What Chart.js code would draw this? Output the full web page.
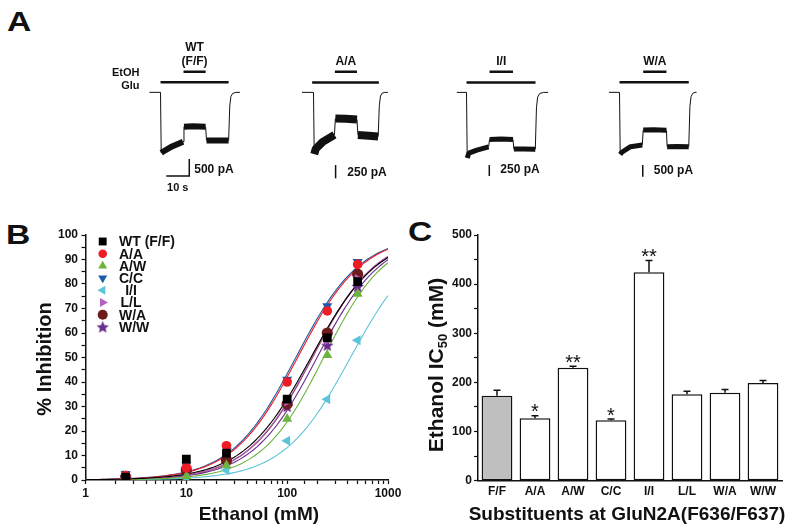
<!DOCTYPE html>
<html>
<head>
<meta charset="utf-8">
<script src="https://cdn.jsdelivr.net/npm/chart.js@4.4.1/dist/chart.umd.min.js"></script>
<style>
  html, body { margin: 0; padding: 0; background: #fff; }
  #fig { position: relative; width: 800px; height: 532px; overflow: hidden; }
  #fig canvas { position: absolute; }
  .panel {
    position: absolute; color: #111;
    font: bold 28px "Liberation Sans", Arial, sans-serif; line-height: 28px;
    transform: scaleX(1.2); transform-origin: 0 0;
  }
</style>
</head>
<body>
<div id="fig">
  <div class="panel" style="left:7px;top:8px">A</div>
  <div class="panel" style="left:6px;top:221px">B</div>
  <div class="panel" style="left:408px;top:218px">C</div>

  <canvas id="traceWT" width="150" height="155" style="left:103px;top:40px"></canvas>
  <canvas id="traceAA" width="150" height="155" style="left:255.5px;top:40px"></canvas>
  <canvas id="traceII" width="150" height="155" style="left:409px;top:40px"></canvas>
  <canvas id="traceWA" width="150" height="155" style="left:561.5px;top:40px"></canvas>

  <canvas id="doseChart" width="410" height="332" style="left:0;top:200px"></canvas>
  <canvas id="ic50Chart" width="400" height="332" style="left:400px;top:200px"></canvas>
</div>

<script>
/* ===== DATA ===== */

// A: whole-cell currents, time in s from glutamate onset, current in pA
const wtTime    = [-4.8, 0, 0.3, 1.2, 5, 9.8, 10.2, 14, 19.6, 20, 25, 29.6, 30.1, 30.6, 31.4, 32.8, 34.5];
const wtCurrent = [0, 0, -1780, -1740, -1590, -1450, -1010, -1000, -1010, -1420, -1420, -1420, -400, -120, -30, 0, 0];

const aaTime    = [-5, 0, 0.3, 1, 4, 9.1, 9.5, 14, 18.9, 19.3, 24, 28.1, 28.6, 29.1, 29.8, 31, 32.3];
const aaCurrent = [0, 0, -1160, -1060, -930, -800, -490, -495, -510, -800, -815, -830, -250, -70, -15, 0, 0];

const iiTime    = [-4.2, 0, 0.3, 1, 4.5, 9.6, 10, 15, 20.2, 20.6, 25, 29.9, 30.4, 30.9, 31.8, 33.5, 35.5];
const iiCurrent = [0, 0, -1490, -1380, -1310, -1235, -1067, -1060, -1070, -1287, -1287, -1290, -350, -110, -25, 0, 0];

const waTime    = [-4.6, 0, 0.3, 1, 4.8, 9.9, 10.3, 15, 20.4, 20.7, 25, 30.1, 30.6, 31.1, 31.9, 32.8, 33.5];
const waCurrent = [0, 0, -2650, -2560, -2320, -2250, -1610, -1600, -1620, -2320, -2310, -2320, -600, -180, -40, 0, 0];

// solution application windows (s)
const gluWindows  = [[0, 29.6], [-0.6, 28.4], [0, 30], [0, 30.1]];
const etohWindows = [[10, 19.6], [9.3, 18.9], [10, 20.2], [10.3, 20.4]];
const traceLabels = [['WT', '(F/F)'], ['A/A'], ['I/I'], ['W/A']];
const scaleBarPA  = [500, 250, 250, 500];

// B: % inhibition vs ethanol concentration
const concentrations = [2.5, 10, 25, 100, 250, 500];
const genotypes = ['WT (F/F)', 'A/A', 'A/W', 'C/C', 'I/I', 'L/L', 'W/A', 'W/W'];
const inhibWT = [1.2, 8.5, 11, 33, 58, 81];
const inhibAA = [1.8, 5, 14, 40, 69, 88];
const inhibAW = [0.8, 1.5, 6, 25, 51, 76];
const inhibCC = [2.5, 6, 13.5, 41, 71, 89];
const inhibII = [0.8, 0.8, 4, 16, 33, 57];
const inhibLL = [2, 5.5, 13, 32, 57, 82];
const inhibWA = [1, 4, 8, 31, 60, 84];
const inhibWW = [1.5, 4.5, 8.5, 30, 55, 79];
// Hill fit parameters (IC50 in mM, slope)
const fitIC50 = [172, 127, 230, 122, 425, 176, 178, 198];
const fitHill = [1.3, 1.35, 1.4, 1.35, 1.3, 1.35, 1.35, 1.35];

// C: ethanol IC50 per substituent
const substituents = ['F/F', 'A/A', 'A/W', 'C/C', 'I/I', 'L/L', 'W/A', 'W/W'];
const ic50Mean = [173, 127, 230, 123, 424, 176, 179, 199];
const ic50Sem  = [11, 5, 3, 2.5, 24, 6, 6.5, 5];
const significance = ['', '*', '**', '*', '**', '', '', ''];

/* ===== HELPERS ===== */

const FONT = '"Liberation Sans", Arial, Helvetica, sans-serif';
const INK = '#111';
Chart.defaults.font.family = FONT;
Chart.defaults.color = INK;

const genoColors = ['#000000', '#ee1c25', '#6db33f', '#1c5aa8', '#5bc4d8', '#b660be', '#6e1b1b', '#6a2b8e'];

function makeStar(color, r) {
  const s = Math.ceil(r * 2 + 2);
  const c = document.createElement('canvas');
  c.width = s; c.height = s;
  const g = c.getContext('2d');
  g.beginPath();
  for (let k = 0; k < 10; k++) {
    const rad = k % 2 ? r * 0.45 : r;
    const a = -Math.PI / 2 + k * Math.PI / 5;
    g.lineTo(s / 2 + rad * Math.cos(a), s / 2 + rad * Math.sin(a) + 0.5);
  }
  g.closePath();
  g.fillStyle = color;
  g.fill();
  return c;
}

const markers = [
  { style: 'rect', rot: 0, r: 6.2 },
  { style: 'circle', rot: 0, r: 4.8 },
  { style: 'triangle', rot: 0, r: 5.8 },
  { style: 'triangle', rot: 180, r: 5.8 },
  { style: 'triangle', rot: 270, r: 5.8 },
  { style: 'triangle', rot: 90, r: 5.8 },
  { style: 'circle', rot: 0, r: 5.6 },
  { style: makeStar(genoColors[7], 6.5), rot: 0, r: 6.5 },
];

function hillCurve(ic50, n) {
  const pts = [];
  for (let k = 0; k <= 90; k++) {
    const c = Math.pow(10, k / 30);
    pts.push({ x: c, y: 100 / (1 + Math.pow(ic50 / c, n)) });
  }
  return pts;
}

// Draws solution bars, genotype label and scale bar around a current trace
const traceDecor = {
  id: 'traceDecor',
  afterDatasetsDraw(chart, args, o) {
    const { ctx, scales: { x, y } } = chart;
    const base = y.getPixelForValue(0);
    ctx.save();
    ctx.strokeStyle = INK;
    ctx.fillStyle = INK;
    ctx.lineCap = 'butt';

    ctx.lineWidth = 2.5;
    ctx.beginPath();
    ctx.moveTo(x.getPixelForValue(o.glu[0]), base - 10);
    ctx.lineTo(x.getPixelForValue(o.glu[1]), base - 10);
    ctx.moveTo(x.getPixelForValue(o.etoh[0]), base - 20.6);
    ctx.lineTo(x.getPixelForValue(o.etoh[1]), base - 20.6);
    ctx.stroke();

    ctx.textBaseline = 'middle';
    ctx.textAlign = 'center';
    ctx.font = `bold 12px ${FONT}`;
    const cx = x.getPixelForValue((o.etoh[0] + o.etoh[1]) / 2);
    o.label.forEach((line, i, arr) => {
      ctx.fillText(line, cx, base - 30.6 - (arr.length - 1 - i) * 14);
    });

    if (o.rowLabels) {
      ctx.font = `bold 11px ${FONT}`;
      ctx.textAlign = 'right';
      const rx = x.getPixelForValue(o.glu[0]) - 21;
      ctx.fillText('EtOH', rx, base - 19.6);
      ctx.fillText('Glu', rx, base - 6.5);
    }

    const sb = o.scaleBar;
    const sx = x.getPixelForValue(sb.t);
    const sy0 = y.getPixelForValue(sb.i);
    const sy1 = y.getPixelForValue(sb.i + sb.pA);
    ctx.lineWidth = 1.5;
    ctx.beginPath();
    ctx.moveTo(sx, sy1);
    ctx.lineTo(sx, sy0);
    if (sb.sec) ctx.lineTo(x.getPixelForValue(sb.t - sb.sec), sy0);
    ctx.stroke();
    ctx.font = `bold 12px ${FONT}`;
    ctx.textAlign = 'left';
    ctx.fillText(sb.pA + ' pA', sx + sb.gap, sy0 - 6);
    if (sb.sec) {
      ctx.font = `bold 11px ${FONT}`;
      ctx.textAlign = 'center';
      ctx.fillText(sb.sec + ' s', x.getPixelForValue(sb.t - sb.sec / 2), sy0 + 11.7);
    }
    ctx.restore();
  }
};

function traceChart(id, time, current, opts) {
  const canvas = document.getElementById(id);
  if (!canvas) return;
  new Chart(canvas, {
    type: 'line',
    data: {
      datasets: [{
        data: time.map((t, i) => ({ x: t, y: current[i] })),
        borderColor: INK,
        borderWidth: 1,
        pointRadius: 0,
        tension: 0,
        borderCapStyle: 'butt',
        borderJoinStyle: 'bevel',
        segment: {
          // noisy plateaus are drawn as a thick band, transitions thin
          borderWidth: c => (c.p1.parsed.x - c.p0.parsed.x > 0.55 &&
                             c.p0.parsed.y < -300 && c.p1.parsed.y < -300) ? opts.band : 1
        }
      }]
    },
    options: {
      responsive: false,
      animation: false,
      layout: { padding: 0 },
      plugins: { legend: { display: false }, tooltip: { enabled: false }, traceDecor: opts },
      scales: {
        x: { type: 'linear', display: false, min: -25, max: 40.2 },
        y: { display: false, min: opts.yMin, max: opts.yMax }
      }
    },
    plugins: [traceDecor]
  });
}

// Free-standing axis titles (rotated, with optional subscript)
const axisTitles = {
  id: 'axisTitles',
  afterDraw(chart, args, o) {
    const { ctx } = chart;
    (o.items || []).forEach(it => {
      ctx.save();
      ctx.translate(it.x, it.y);
      if (it.rotate) ctx.rotate(it.rotate);
      ctx.fillStyle = INK;
      ctx.textBaseline = 'alphabetic';
      ctx.textAlign = 'left';
      const big = `bold ${it.size}px ${FONT}`;
      const small = `bold ${Math.round(it.size * 0.62)}px ${FONT}`;
      let total = 0;
      it.parts.forEach(p => { ctx.font = p.sub ? small : big; total += ctx.measureText(p.t).width; });
      let px = -total / 2;
      const by = it.size * 0.36;
      it.parts.forEach(p => {
        ctx.font = p.sub ? small : big;
        ctx.fillText(p.t, px, p.sub ? by + it.size * 0.18 : by);
        px += ctx.measureText(p.t).width;
      });
      ctx.restore();
    });
  }
};

/* ===== A: CURRENT TRACES ===== */

traceChart('traceWT', wtTime, wtCurrent, {
  glu: gluWindows[0], etoh: etohWindows[0], label: traceLabels[0], rowLabels: true,
  yMin: -3020, yMax: 1540, band: 6,
  scaleBar: { t: 12.5, i: -2460, pA: scaleBarPA[0], sec: 10, gap: 5 }
});
traceChart('traceAA', aaTime, aaCurrent, {
  glu: gluWindows[1], etoh: etohWindows[1], label: traceLabels[1],
  yMin: -1930, yMax: 985, band: 8,
  scaleBar: { t: 9.6, i: -1617, pA: scaleBarPA[1], sec: 0, gap: 11.7 }
});
traceChart('traceII', iiTime, iiCurrent, {
  glu: gluWindows[2], etoh: etohWindows[2], label: traceLabels[2],
  yMin: -2330, yMax: 1190, band: 5,
  scaleBar: { t: 9.9, i: -1900, pA: scaleBarPA[2], sec: 0, gap: 11 }
});
traceChart('traceWA', waTime, waCurrent, {
  glu: gluWindows[3], etoh: etohWindows[3], label: traceLabels[3],
  yMin: -4385, yMax: 2235, band: 5,
  scaleBar: { t: 10.1, i: -3604, pA: scaleBarPA[3], sec: 0, gap: 11 }
});

/* ===== B: CONCENTRATION-RESPONSE ===== */

(function() {
  const ctx = document.getElementById('doseChart');
  if (!ctx) return;

  const series = [inhibWT, inhibAA, inhibAW, inhibCC, inhibII, inhibLL, inhibWA, inhibWW];

  const pointSets = series.map((vals, i) => ({
    label: genotypes[i],
    data: concentrations.map((c, k) => ({ x: c, y: vals[k] })),
    backgroundColor: genoColors[i],
    borderColor: genoColors[i],
    borderWidth: 0,
    pointStyle: markers[i].style,
    rotation: markers[i].rot,
    pointRadius: markers[i].r,
    showLine: false,
    order: 0,
  }));
  const curveSets = series.map((vals, i) => ({
    label: genotypes[i] + ' fit',
    data: hillCurve(fitIC50[i], fitHill[i]),
    borderColor: genoColors[i],
    borderWidth: 1.1,
    pointRadius: 0,
    showLine: true,
    tension: 0,
    order: 1,
  }));

  const doseLegend = {
    id: 'doseLegend',
    afterDraw(chart) {
      const c = chart.ctx;
      c.save();
      c.font = `bold 14px ${FONT}`;
      c.textBaseline = 'middle';
      genotypes.forEach((name, i) => {
        const y = 41.5 + i * 12.2;
        c.fillStyle = genoColors[i];
        c.strokeStyle = genoColors[i];
        Chart.helpers.drawPoint(c, {
          pointStyle: markers[i].style, rotation: markers[i].rot,
          radius: markers[i].r * 0.9, borderWidth: 0
        }, 102.7, y);
        c.fillStyle = INK;
        const w = c.measureText(name).width;
        c.fillText(name, Math.max(119, 131 - w / 2), y + 1);
      });
      c.restore();
    }
  };

  new Chart(ctx, {
    type: 'scatter',
    data: { datasets: [...pointSets, ...curveSets] },
    options: {
      responsive: false,
      animation: false,
      layout: { padding: { top: 35, right: 22, left: 0, bottom: 0 } },
      plugins: {
        legend: { display: false },
        tooltip: { enabled: false },
        axisTitles: {
          items: [
            { parts: [{ t: '% Inhibition' }], size: 20, x: 44, y: 159, rotate: -Math.PI / 2 },
            { parts: [{ t: 'Ethanol (mM)' }], size: 19, x: 259, y: 313 },
          ]
        }
      },
      scales: {
        x: {
          type: 'logarithmic',
          min: 1, max: 1000,
          afterFit(s) { s.height = 52; },
          border: { color: INK, width: 1.5 },
          grid: { drawOnChartArea: false, tickLength: 4, tickColor: INK, tickWidth: 1.2 },
          ticks: {
            autoSkip: false, maxRotation: 0, padding: 2,
            font: { size: 12, weight: 'bold' }, color: INK,
            callback(v) {
              const l = Math.log10(v);
              return Math.abs(l - Math.round(l)) < 1e-6 ? String(Math.round(v)) : '';
            }
          }
        },
        y: {
          min: 0, max: 100,
          afterFit(s) { s.width = 85.5; },
          border: { color: INK, width: 1.5 },
          grid: { drawOnChartArea: false, tickLength: 4, tickColor: INK, tickWidth: 1.2 },
          ticks: {
            stepSize: 5, autoSkip: false, padding: 3.5,
            font: { size: 12, weight: 'bold' }, color: INK,
            callback(v) { return v % 10 === 0 ? v : ''; }
          }
        }
      }
    },
    plugins: [doseLegend, axisTitles]
  });
})();

/* ===== C: IC50 BARS ===== */

(function() {
  const ctx = document.getElementById('ic50Chart');
  if (!ctx) return;

  const errorBars = {
    id: 'errorBars',
    afterDatasetsDraw(chart) {
      const { ctx: c, scales: { y } } = chart;
      const meta = chart.getDatasetMeta(0);
      c.save();
      c.strokeStyle = INK;
      c.fillStyle = INK;
      c.lineWidth = 1.5;
      meta.data.forEach((bar, i) => {
        const top = y.getPixelForValue(ic50Mean[i] + ic50Sem[i]);
        c.beginPath();
        c.moveTo(bar.x, bar.y);
        c.lineTo(bar.x, top);
        c.moveTo(bar.x - 3.5, top);
        c.lineTo(bar.x + 3.5, top);
        c.stroke();
        if (significance[i]) {
          c.font = `20px ${FONT}`;
          c.textAlign = 'center';
          c.textBaseline = 'alphabetic';
          c.fillText(significance[i], bar.x, top + 2.5);
        }
      });
      c.restore();
    }
  };

  new Chart(ctx, {
    type: 'bar',
    data: {
      labels: substituents,
      datasets: [{
        label: 'Ethanol IC50 (mM)',
        data: ic50Mean,
        backgroundColor: substituents.map((s, i) => i === 0 ? '#bfbfbf' : '#ffffff'),
        borderColor: INK,
        borderWidth: 1.5,
        borderSkipped: false,
        categoryPercentage: 1,
        barPercentage: 0.81,
      }]
    },
    options: {
      responsive: false,
      animation: false,
      layout: { padding: { top: 35, right: 18, left: 0, bottom: 0 } },
      plugins: {
        legend: { display: false },
        tooltip: { enabled: false },
        axisTitles: {
          items: [
            { parts: [{ t: 'Ethanol IC' }, { t: '50', sub: true }, { t: ' (mM)' }],
              size: 21, x: 35.5, y: 165, rotate: -Math.PI / 2 },
            { parts: [{ t: 'Substituents at GluN2A(F636/F637)' }], size: 19, x: 227, y: 313 },
          ]
        }
      },
      scales: {
        x: {
          afterFit(s) { s.height = 51.3; },
          border: { color: INK, width: 1.5 },
          grid: { display: true, drawOnChartArea: false, drawTicks: false },
          ticks: { padding: 4, font: { size: 12, weight: 'bold' }, color: INK, maxRotation: 0 }
        },
        y: {
          min: 0, max: 500,
          afterFit(s) { s.width = 78; },
          border: { color: INK, width: 1.5 },
          grid: { drawOnChartArea: false, tickLength: 4, tickColor: INK, tickWidth: 1.2 },
          ticks: {
            stepSize: 50, autoSkip: false, padding: 2,
            font: { size: 12, weight: 'bold' }, color: INK,
            callback(v) { return v % 100 === 0 ? v : ''; }
          }
        }
      }
    },
    plugins: [errorBars, axisTitles]
  });
})();
</script>
</body>
</html>
